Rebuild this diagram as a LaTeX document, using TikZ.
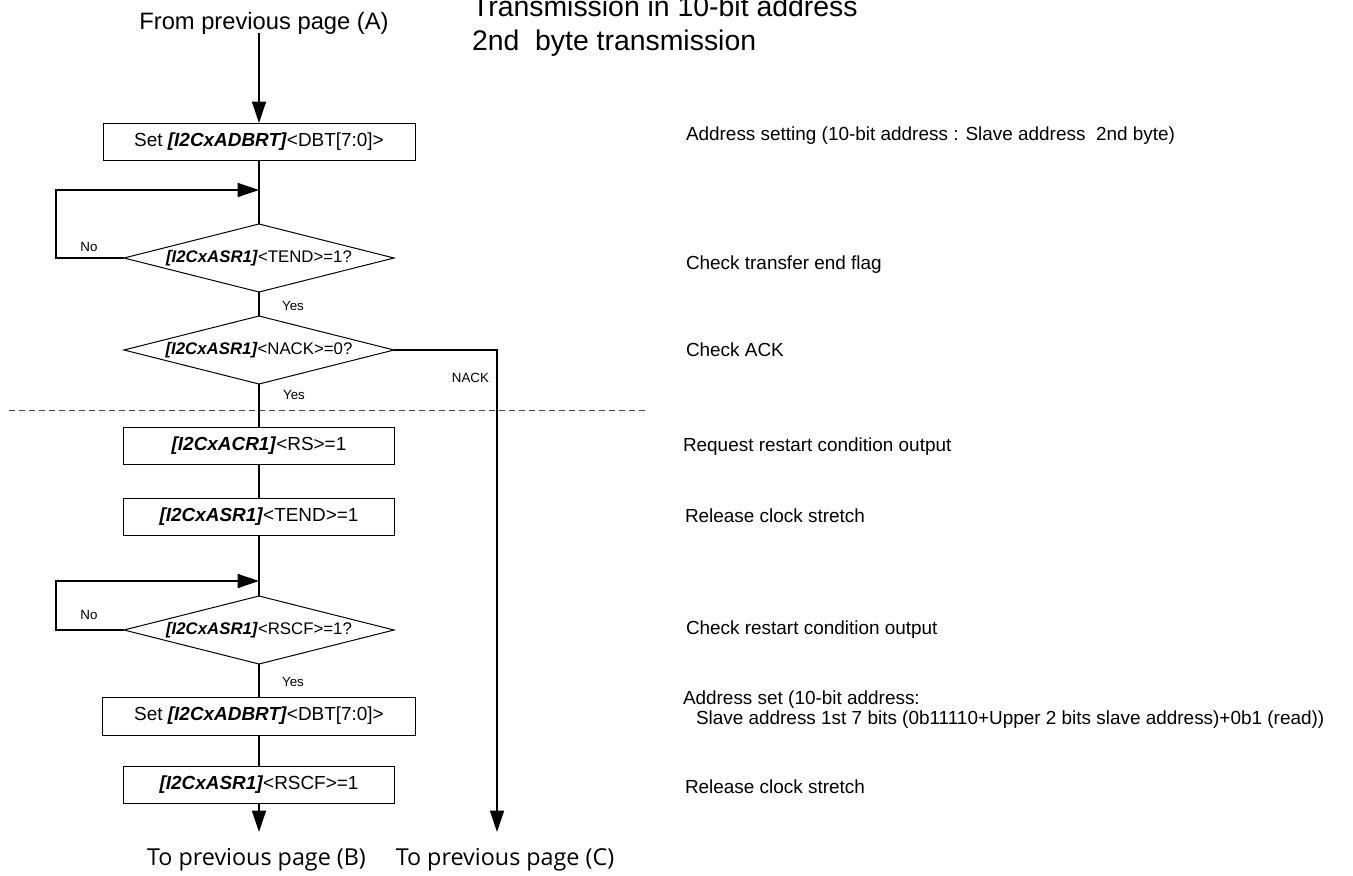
\documentclass[tikz,border=0pt]{standalone}
\usepackage{fontspec}
\setmainfont{Liberation Sans}
\newfontfamily\pagefont{Open Sans}
\usetikzlibrary{shapes.geometric,arrows.meta}

% register names are set in bold italic
\newcommand{\reg}[1]{\textbf{\textit{#1}}}

\begin{document}
\begin{tikzpicture}[x=0.75pt,y=-0.75pt,
  every node/.style={inner sep=0pt, outer sep=0pt},
  procbox/.style={draw, line width=0.75pt, rectangle, minimum height=27.75pt,
    font=\fontsize{14.2}{17}\selectfont},
  decision/.style={draw, line width=0.75pt, diamond, aspect=3.97,
    minimum width=202.5pt, minimum height=51pt, font=\fontsize{12.6}{15}\selectfont},
  flow/.style={line width=1.15pt},
  flowarrow/.style={flow, -{Triangle[length=16pt,width=10.5pt]}},
  note/.style={anchor=base west, font=\fontsize{14.2}{17}\selectfont},
  tag/.style={font=\fontsize{10}{12}\selectfont},
  pagelabel/.style={anchor=base, font=\pagefont\fontsize{17.5}{21}\selectfont},
  heading/.style={anchor=base west, font=\fontsize{21.3}{25}\selectfont},
  separator/.style={draw=black!70, line width=0.75pt, dash pattern=on 4.5pt off 3pt},
]
\useasboundingbox (0,0) rectangle (1353,875);

% headings
\node[anchor=base, font=\fontsize{17.8}{21}\selectfont] (src) at (264,29) {From previous page (A)};
\node[heading] (title1) at (472,16) {Transmission in 10-bit address};
\node[heading] (title2) at (472,50) {2nd\ \ byte transmission};

% phase separator
\draw[separator] (9,410) -- (645,410);

% flow steps
\node[procbox, minimum width=234pt] (b1) at (259,141.5) {Set \reg{[I2CxADBRT]}<DBT[7:0]>};
\node[decision] (d1) at (259,258) {\reg{[I2CxASR1]}<TEND>=1?};
\node[decision] (d2) at (259,350) {\reg{[I2CxASR1]}<NACK>=0?};
\node[procbox, minimum width=203.25pt] (b2) at (259,445.5) {\reg{[I2CxACR1]}<RS>=1};
\node[procbox, minimum width=203.25pt] (b3) at (259,516.5) {\reg{[I2CxASR1]}<TEND>=1};
\node[decision] (d3) at (259,630) {\reg{[I2CxASR1]}<RSCF>=1?};
\node[procbox, minimum width=234.75pt, minimum height=28.5pt] (b4) at (259,716) {Set \reg{[I2CxADBRT]}<DBT[7:0]>};
\node[procbox, minimum width=203.25pt] (b5) at (259,784.5) {\reg{[I2CxASR1]}<RSCF>=1};

% connector corners and free ends
\coordinate (a0) at (259,33);
\coordinate (j1) at (259,190);
\coordinate (l1) at (56,190);
\coordinate (j2) at (259,581);
\coordinate (l2) at (56,581);
\coordinate (n1) at (497,350);
\coordinate (endB) at (259,832);
\coordinate (endC) at (497,832);

% connectors
\draw[flowarrow] (a0) -- (b1.north);
\draw[flow] (b1.south) -- (d1.north);
\draw[flowarrow] (d1.west) -| (l1) -- (j1);
\draw[flow] (d1.south) -- (d2.north);
\draw[flow] (d2.south) -- (b2.north);
\draw[flowarrow] (d2.east) -- (n1) -- (endC);
\draw[flow] (b2.south) -- (b3.north);
\draw[flow] (b3.south) -- (d3.north);
\draw[flowarrow] (d3.west) -| (l2) -- (j2);
\draw[flow] (d3.south) -- (b4.north);
\draw[flow] (b4.south) -- (b5.north);
\draw[flowarrow] (b5.south) -- (endB);

% branch labels
\node[tag] (no1) at (89,247) {No};
\node[tag] (yes1) at (293,306) {Yes};
\node[tag] (yes2) at (294,395) {Yes};
\node[tag, anchor=east] (nack) at (489,378) {NACK};
\node[tag] (no2) at (89,615) {No};
\node[tag] (yes3) at (293,682) {Yes};

% exits
\node[pagelabel] (toB) at (256.5,865) {To previous page (B)};
\node[pagelabel] (toC) at (505,865) {To previous page (C)};

% step descriptions
\node[note] (c1) at (686,140) {Address setting (10-bit address : Slave address\ \ 2nd byte)};
\node[note] (c2) at (686,269) {Check transfer end flag};
\node[note] (c3) at (686,356) {Check ACK};
\node[note] (c4) at (683,451) {Request restart condition output};
\node[note] (c5) at (685,522) {Release clock stretch};
\node[note] (c6) at (686,634) {Check restart condition output};
\node[note] (c7) at (683,704) {Address set (10-bit address:};
\node[note] (c8) at (696,724) {Slave address 1st 7 bits (0b11110+Upper 2 bits slave address)+0b1 (read))};
\node[note] (c9) at (685,793) {Release clock stretch};
\end{tikzpicture}
\end{document}
